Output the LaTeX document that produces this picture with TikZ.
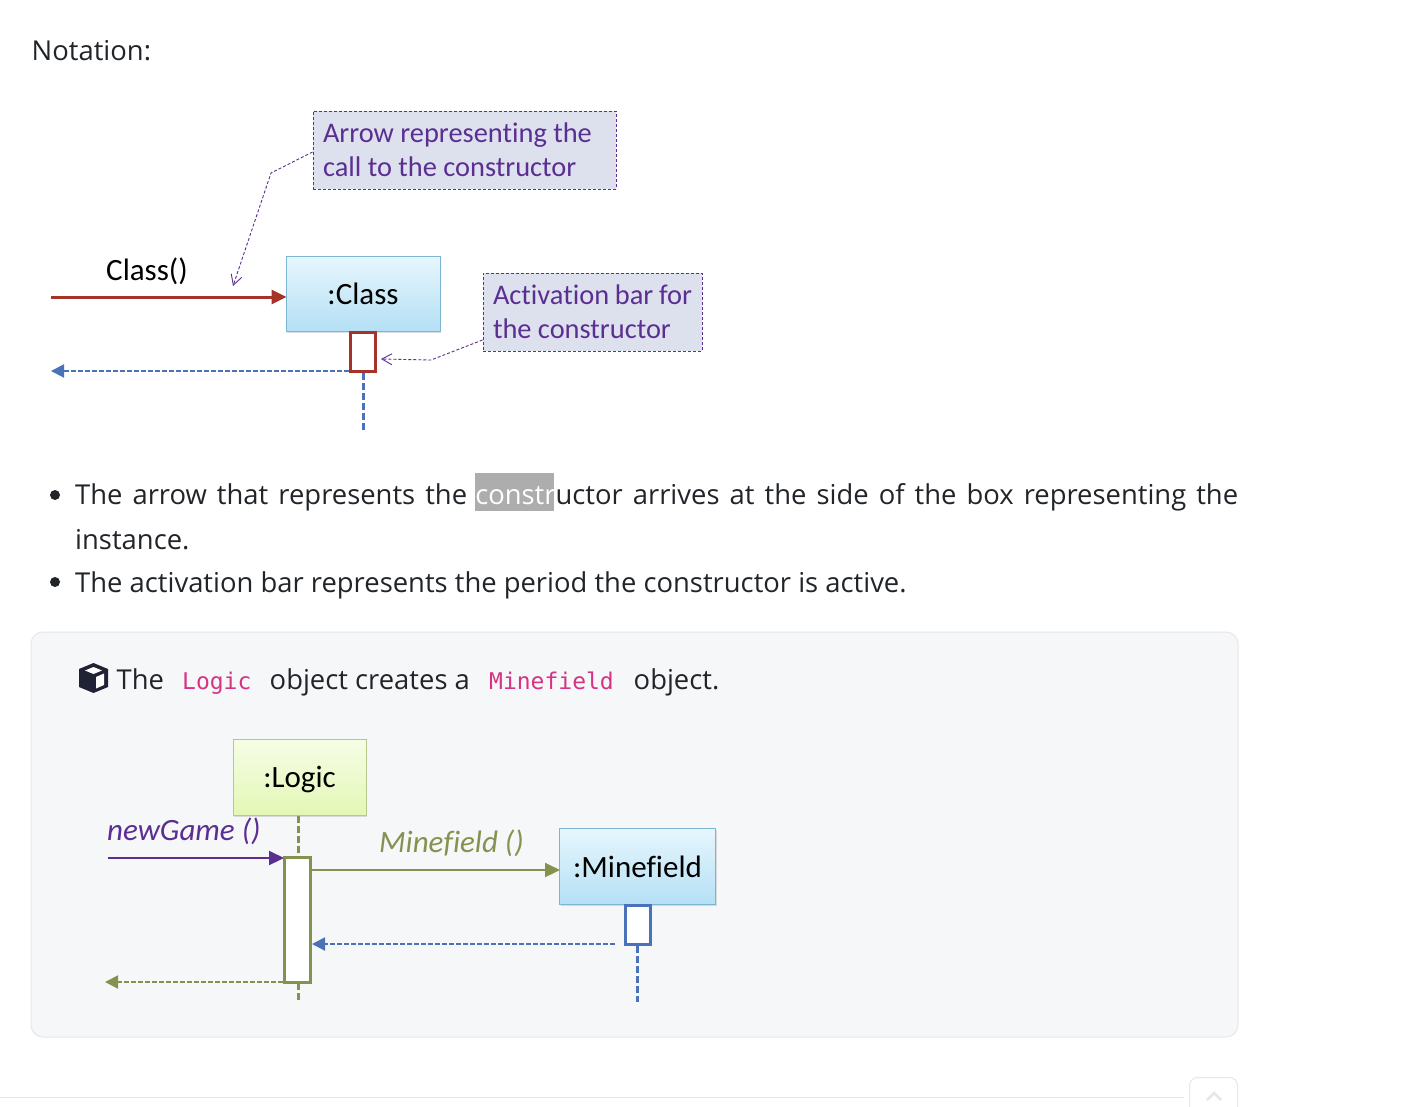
\documentclass[tikz,border=0pt]{standalone}
\usepackage{fontspec}
\setmainfont{Open Sans}
\setmonofont{DejaVu Sans Mono}
\newfontfamily\diagfont[Ligatures=NoCommon]{Carlito}
\usetikzlibrary{arrows.meta, shadows}
\definecolor{bodyink}{HTML}{212529}
\definecolor{notefill}{HTML}{DDE1EE}
\definecolor{noteink}{HTML}{5B2E91}
\definecolor{callred}{HTML}{A5332A}
\definecolor{backblue}{HTML}{4A72B8}
\definecolor{olive}{HTML}{83934F}
\definecolor{panel}{HTML}{F6F7F9}
\definecolor{panelrule}{HTML}{E6E7EA}
\definecolor{codepink}{HTML}{D63384}
\definecolor{bluetop}{HTML}{E6F6FD}
\definecolor{bluelow}{HTML}{B5E0F5}
\definecolor{blueline}{HTML}{7DB6D2}
\definecolor{greentop}{HTML}{F6FDE6}
\definecolor{greenlow}{HTML}{E3F7B5}
\definecolor{greenline}{HTML}{B5C98A}
\tikzset{body/.style = {anchor=base west,inner sep=0pt,text=bodyink,font=\fontsize{27.4}{34}\selectfont}}
\tikzset{code/.style = {anchor=base west,inner sep=0pt,text=codepink,font=\fontsize{23}{28}\ttfamily}}
\tikzset{dot/.style = {shape=circle,fill=bodyink,inner sep=0pt,minimum size=10pt}}
\tikzset{note/.style = {shape=rectangle,draw=noteink,densely dashed,line width=1pt,fill=notefill,align=left,inner sep=10pt,minimum height=78pt,text=noteink,font=\diagfont\fontsize{28.4}{34}\selectfont,execute at begin node={\spaceskip=0pt\relax}}}
\tikzset{leader/.style = {draw=noteink,densely dashed,line width=.9pt,-{Straight Barb[length=10pt,width=11pt]}}}
\tikzset{bluebox/.style = {shape=rectangle,draw=blueline,line width=1pt,top color=bluetop,bottom color=bluelow,inner sep=0pt,text height=21pt,text depth=0pt,font=\diagfont\fontsize{31}{36}\selectfont}}
\tikzset{greenbox/.style = {shape=rectangle,draw=greenline,line width=1pt,top color=greentop,bottom color=greenlow,inner sep=0pt,text height=21pt,text depth=0pt,font=\diagfont\fontsize{31}{36}\selectfont}}
\tikzset{bar/.style = {shape=rectangle,fill=white,line width=3pt,inner sep=0pt}}
\tikzset{call/.style = {shorten >=-1pt,-{Triangle[length=15pt,width=14pt]}}}
\tikzset{back/.style = {dash pattern=on 5pt off 2pt,line width=2pt,-{Triangle[length=13pt,width=13pt]}}}
\tikzset{life/.style = {dash pattern=on 7pt off 3pt,line width=3pt}}
\tikzset{label/.style = {inner sep=0pt,font=\diagfont\fontsize{31}{36}\selectfont}}
\tikzset{soft/.style = {drop shadow={shadow xshift=1pt,shadow yshift=-1.5pt,opacity=.25}}}
\begin{document}
\begin{tikzpicture}[x=1pt,y=-1pt]
        \useasboundingbox[fill=white] (0,0) rectangle (1426,1106);
        \node[body] (notation) at (31.5,60) {Notation:};
        \node[note,text width=283pt,minimum width=303pt] (n1) at (464.5,150) {Arrow representing the\\call to the constructor};
        \node[note,text width=199pt,minimum width=219pt] (n2) at (592.5,312) {Activation bar for\\the constructor};
        \node[bluebox,soft,minimum width=154pt,minimum height=75pt] (cl) at (363,293.5) {:Class};
        \node[bar,draw=callred,minimum width=25pt,minimum height=39pt] (clb) at (363,351.5) {};
        \coordinate (k1) at (271,173);
        \coordinate (k2) at (431,360);
        \coordinate (t1) at (233,286);
        \coordinate (t2) at (381,359);
        \draw[leader] (n1.west) ++(0,2) -- (k1) -- (t1);
        \draw[leader] (n2.west) ++(0,28) -- (k2) -- (t2);
        \coordinate (s1) at (51,297);
        \coordinate (e1) at (51,371);
        \coordinate (l1) at (363,430);
        \draw[call,color=callred,line width=3pt] (s1) -- (cl.west |- s1);
        \node[label] (cll) at (147,271) {Class()};
        \draw[back,color=backblue] (clb.west |- e1) -- (e1);
        \draw[life,color=backblue] (l1 |- clb.south) -- (l1);
        \fill[black!32] (475,473) rectangle (554,511);
        \node[body] (b1) at (75,504) {\makebox[1163pt][s]{The arrow that represents the \hspace{-2pt}\textcolor{white}{constr}uctor arrives at the side of the box representing the}};
        \node[body] (b1b) at (75,549) {instance.};
        \node[body] (b2) at (75,592) {The activation bar represents the period the constructor is active.};
        \node[dot] (d1) at (55,495) {};
        \node[dot] (d2) at (55,582) {};
        \draw[panelrule,fill=panel,line width=1pt,rounded corners=12pt] (31,632) rectangle (1238,1037);
        \fill[bodyink!95!blue] (93.5,663) -- (108,669) -- (108,687) -- (93.5,693) -- (79,687) -- (79,669) -- cycle;
        \fill[white] (93.5,667) -- (102,670.5) -- (93.5,674) -- (85,670.5) -- cycle;
        \fill[white] (96,677) -- (104,673.5) -- (104,685) -- (96,688.5) -- cycle;
        \node[body] (t) at (116.5,689) {The};
        \node[code] (c1) at (182,689) {Logic};
        \node[body] (t2a) at (269.5,689) {object creates a};
        \node[code] (c2) at (489,689) {Minefield};
        \node[body] (t3) at (633.5,689) {object.};
        \node[greenbox,soft,minimum width=133pt,minimum height=76pt] (lg) at (299.5,777) {:Logic};
        \node[bluebox,soft,minimum width=156pt,minimum height=76pt] (mf) at (637.5,866.5) {:Minefield};
        \coordinate (l2) at (298,857);
        \coordinate (l3) at (298,1002);
        \draw[life,color=olive] (lg.south -| l2) -- (l2);
        \draw[life,color=olive] (298,983) -- (l3);
        \node[bar,draw=olive,minimum width=26pt,minimum height=125pt] (lgb) at (297.5,920) {};
        \node[bar,draw=backblue,minimum width=25pt,minimum height=39pt] (mfb) at (637.5,925) {};
        \coordinate (s2) at (108,858);
        \coordinate (s3) at (312,870);
        \coordinate (s4) at (615,944);
        \coordinate (e4) at (105,982);
        \coordinate (l4) at (637,1002);
        \draw[call,color=noteink,line width=2.2pt] (s2) -- (lgb.north west |- s2);
        \draw[call,color=olive,line width=2.2pt] (s3) -- (mf.west |- s3);
        \draw[back,color=backblue] (s4) -- (lgb.east |- s4);
        \draw[back,color=olive] (lgb.west |- e4) -- (e4);
        \draw[life,color=backblue] (mfb.south -| l4) -- (l4);
        \node[label,text=noteink,anchor=base west] (ng) at (107,840) {\itshape newGame ()};
        \node[label,text=olive,anchor=base west] (mc) at (379,852) {\itshape Minefield ()};
        \coordinate (r1) at (0,1097);
        \coordinate (r2) at (1184,1097);
        \draw[panelrule,line width=1pt] (r1) -- (r2);
        \draw[panelrule,line width=1pt,rounded corners=8pt] (1189.5,1120) -- (1189.5,1077.5) -- (1237.5,1077.5) -- (1237.5,1120);
        \draw[panelrule,line width=2.5pt] (1207,1100) -- (1214,1093) -- (1221,1100);
    \end{tikzpicture}
\end{document}
